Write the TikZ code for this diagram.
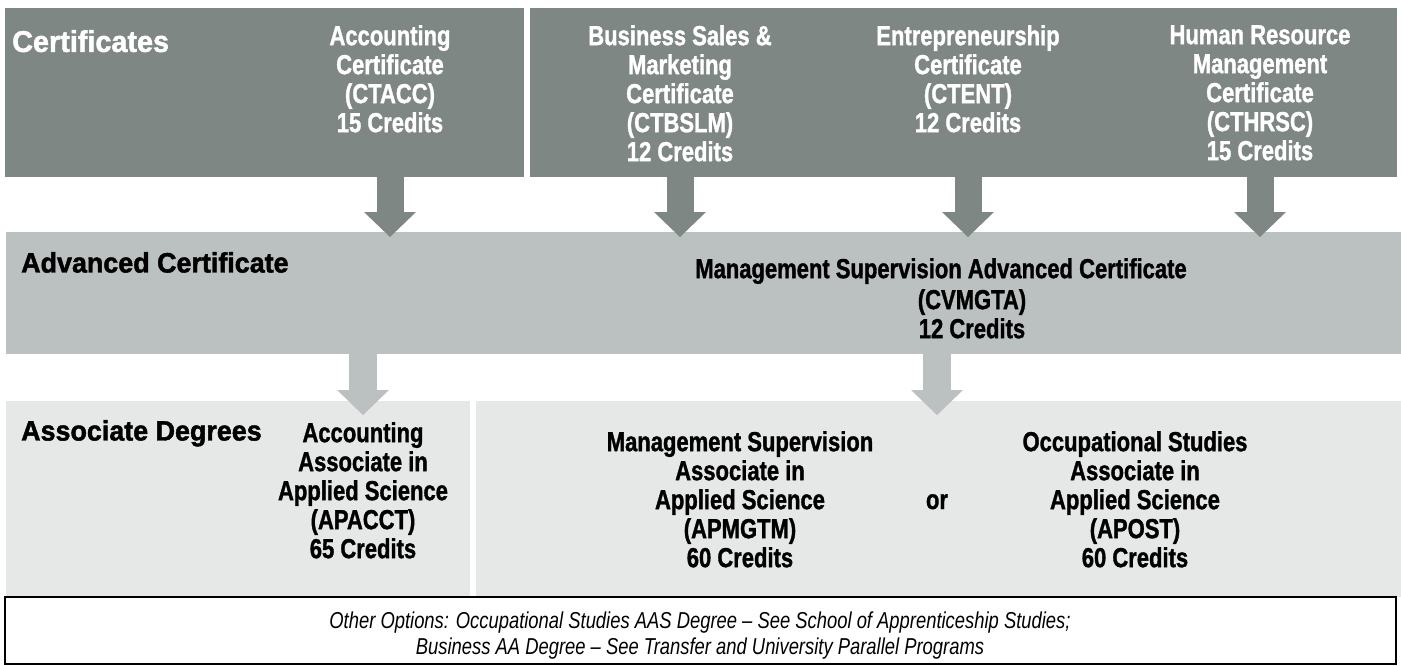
\documentclass[tikz,border=0pt]{standalone}
\usepackage{fontspec}
\newfontfamily\cellfont{Liberation Sans Bold}[FakeStretch=0.8, FakeBold=1.2]
\newfontfamily\headfont{Liberation Sans Bold}[FakeStretch=0.96, FakeBold=1.6]
\newfontfamily\notefont{Liberation Sans Italic}[FakeStretch=0.8]
\usetikzlibrary{arrows.meta, positioning, calc}

\definecolor{certgray}{RGB}{127,135,133}
\definecolor{advgray}{RGB}{187,192,192}
\definecolor{deggray}{RGB}{230,231,231}

\begin{document}
\begin{tikzpicture}[
    x=1pt, y=-1pt,
    band/.style={rectangle, inner sep=0pt, outer sep=0pt, anchor=north west},
    cell/.style={align=center, inner sep=0pt, anchor=north, font=\cellfont\fontsize{27.5}{29}\selectfont},
    head/.style={inner sep=0pt, anchor=north west, font=\headfont\fontsize{28}{30}\selectfont},
    note/.style={align=center, inner sep=0pt, anchor=north, font=\notefont\fontsize{23}{26}\selectfont},
    darrow/.style={-{Triangle[width=52pt, length=25pt, line width=0pt]}, line width=27pt, color=certgray},
    larrow/.style={-{Triangle[width=52pt, length=25pt, line width=0pt]}, line width=28pt, color=advgray}
]
    \useasboundingbox (0,0) rectangle (1401,665);

    % Bands
    \node[band, fill=certgray, minimum width=519pt, minimum height=169pt] (certL) at (5,8) {};
    \node[band, fill=certgray, minimum width=867pt, minimum height=169pt, right=6pt of certL.north east, anchor=north west] (certR) {};
    \node[band, fill=advgray, minimum width=1395pt, minimum height=122pt] (adv) at (6,232) {};
    \node[band, fill=deggray, minimum width=464pt, minimum height=196pt] (degL) at (6,401) {};
    \node[band, fill=deggray, minimum width=925pt, minimum height=196pt, right=6pt of degL.north east, anchor=north west] (degR) {};
    \node[band, draw=black, line width=1.2pt, fill=white, minimum width=1391pt, minimum height=67pt] (foot) at (5,597) {};

    % Certificates
    \node[head, white, font=\headfont\fontsize{30}{32}\selectfont] (certhead) at (12,30) {Certificates};
    \node[cell, white] (ctacc) at (390,25) {Accounting\\Certificate\\(CTACC)\\15 Credits};
    \node[cell, white] (ctbslm) at (680,25) {Business Sales \&\\Marketing\\Certificate\\(CTBSLM)\\12 Credits};
    \node[cell, white] (ctent) at (968,25) {Entrepreneurship\\Certificate\\(CTENT)\\12 Credits};
    \node[cell, white] (cthrsc) at (1260,25) {Human Resource\\Management\\Certificate\\(CTHRSC)\\15 Credits};

    % Advanced certificate
    \node[head] (advhead) at (21,252) {Advanced Certificate};
    \node[cell] (cvmgta) at (941,258) {Management Supervision Advanced Certificate};
    \node[cell] (cvmgtacr) at (972,289) {(CVMGTA)\\12 Credits};

    % Associate degrees
    \node[head] (deghead) at (21,420) {Associate Degrees};
    \node[cell] (apacct) at (363,422) {Accounting\\Associate in\\Applied Science\\(APACCT)\\65 Credits};
    \node[cell] (apmgtm) at (740,431) {Management Supervision\\Associate in\\Applied Science\\(APMGTM)\\60 Credits};
    \node[cell, anchor=base] (ortext) at (937,509) {or};
    \node[cell] (apost) at (1135,431) {Occupational Studies\\Associate in\\Applied Science\\(APOST)\\60 Credits};

    % Footer
    \node[note] (other) at (700,612) {Other Options: Occupational Studies AAS Degree – See School of Apprenticeship Studies;\\Business AA Degree – See Transfer and University Parallel Programs};

    % Arrows
    \draw[darrow] (ctacc |- certL.south) -- ($(ctacc |- adv.north)+(0,5)$);
    \draw[darrow] (ctbslm |- certR.south) -- ($(ctbslm |- adv.north)+(0,5)$);
    \draw[darrow] (ctent |- certR.south) -- ($(ctent |- adv.north)+(0,5)$);
    \draw[darrow] (cthrsc |- certR.south) -- ($(cthrsc |- adv.north)+(0,5)$);
    \draw[larrow] (apacct |- adv.south) -- ($(apacct |- degL.north)+(0,14)$);
    \draw[larrow] (ortext |- adv.south) -- ($(ortext |- degR.north)+(0,14)$);

\end{tikzpicture}
\end{document}
